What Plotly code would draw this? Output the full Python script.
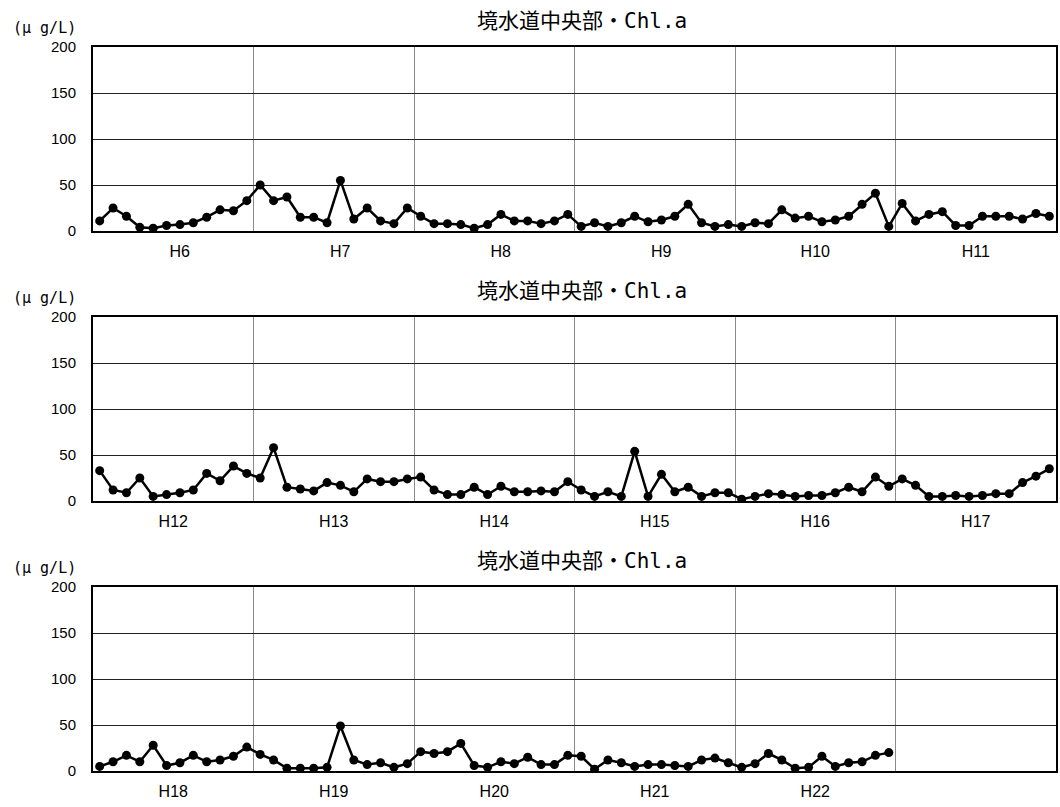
import plotly.graph_objects as go

# Monthly Chl.a values (μg/L), 12 per fiscal year
H6 = [11, 25, 16, 4, 3, 6, 7, 9, 15, 23, 22, 33]
H7 = [50, 33, 37, 15, 15, 9, 55, 13, 25, 11, 8, 25]
H8 = [16, 8, 8, 7, 3, 7, 18, 11, 11, 8, 11, 18]
H9 = [5, 9, 5, 9, 16, 10, 12, 16, 29, 9, 5, 7]
H10 = [5, 9, 8, 23, 14, 16, 10, 12, 16, 29, 41, 5]
H11 = [30, 11, 18, 21, 6, 6, 16, 16, 16, 13, 19, 16]
H12 = [33, 12, 9, 25, 5, 7, 9, 12, 30, 22, 38, 30]
H13 = [25, 58, 15, 13, 11, 20, 17, 10, 24, 21, 21, 24]
H14 = [26, 12, 7, 7, 15, 7, 16, 10, 10, 11, 10, 21]
H15 = [12, 5, 10, 5, 54, 5, 29, 10, 15, 5, 9, 9]
H16 = [2, 5, 8, 7, 5, 6, 6, 9, 15, 10, 26, 16]
H17 = [24, 17, 5, 5, 6, 5, 6, 8, 8, 20, 27, 35]
H18 = [5, 10, 17, 10, 28, 6, 9, 17, 10, 12, 16, 26]
H19 = [18, 12, 3, 3, 3, 4, 49, 12, 7, 9, 4, 8]
H20 = [21, 19, 21, 30, 6, 4, 10, 8, 15, 7, 7, 17]
H21 = [16, 2, 12, 9, 5, 7, 7, 6, 5, 12, 14, 9]
H22 = [4, 8, 19, 12, 3, 4, 16, 5, 9, 10, 17, 20]

panel_years = [
    ["H6", "H7", "H8", "H9", "H10", "H11"],
    ["H12", "H13", "H14", "H15", "H16", "H17"],
    ["H18", "H19", "H20", "H21", "H22", ""],
]
year_data = {
    "H6": H6, "H7": H7, "H8": H8, "H9": H9, "H10": H10, "H11": H11,
    "H12": H12, "H13": H13, "H14": H14, "H15": H15, "H16": H16, "H17": H17,
    "H18": H18, "H19": H19, "H20": H20, "H21": H21, "H22": H22,
}
title_cjk = "境水道中央部・"
title_lat = "Chl.a"
unit_text = "(μ g/L)"
y_ticks = [0, 50, 100, 150, 200]

W, H = 1060, 807
L, R = 93, 1056
panel_px = [(47, 231), (317, 501), (587, 771)]
px_per_unit = (R - L) / 72.0

fig = go.Figure()
cjk = "Noto Sans CJK JP"
mono = "DejaVu Sans Mono"
narrow = "Liberation Sans Narrow, Arial Narrow, Liberation Sans"

for i, years in enumerate(panel_years):
    xs, ys = [], []
    for k, yr in enumerate(years):
        vals = year_data.get(yr, [])
        for m, v in enumerate(vals):
            xs.append(k * 12 + m)
            ys.append(v)
    n = i + 1
    xa = "x" if n == 1 else f"x{n}"
    ya = "y" if n == 1 else f"y{n}"
    fig.add_trace(go.Scatter(
        x=xs, y=ys, mode="lines+markers", xaxis=xa, yaxis=ya,
        line=dict(color="black", width=2.5),
        marker=dict(color="black", size=9),
        showlegend=False, hoverinfo="x+y",
    ))
    top, bot = panel_px[i]
    dom_y = [1 - bot / H, 1 - top / H]
    xkey = "xaxis" if n == 1 else f"xaxis{n}"
    ykey = "yaxis" if n == 1 else f"yaxis{n}"
    # two-character labels sit slightly right of the block centre
    tv = [k * 12 + 5.5 + (6.5 / px_per_unit if len(lbl) == 2 else 0)
          for k, lbl in enumerate(years)]
    fig.update_layout(**{
        xkey: dict(
            domain=[0, 1], anchor=ya, range=[-0.5, 71.5], automargin=False,
            tickvals=tv, ticktext=years, ticks="", showgrid=False,
            zeroline=False,
            showline=True, linecolor="black", linewidth=2, mirror=True,
            tickfont=dict(family=narrow, size=16, color="black"),
            ticklabelstandoff=5,
            minor=dict(tickvals=[k * 12 - 0.5 for k in range(1, 6)],
                       showgrid=True, gridcolor="#8a8a8a", gridwidth=1,
                       ticks=""),
        ),
        ykey: dict(
            domain=dom_y, anchor=xa, range=[0, 200], automargin=False,
            tickvals=y_ticks, ticks="", showgrid=True,
            gridcolor="#222222", gridwidth=1, zeroline=False,
            showline=True, linecolor="black", linewidth=2, mirror=True,
            tickfont=dict(family="Liberation Sans", size=15, color="black"),
            ticklabelstandoff=12,
        ),
    })
    fig.add_annotation(
        text=(title_cjk + "<span style=\"font-family:'DejaVu Sans Mono'\">"
              + title_lat + "</span>"),
        xref="paper", yref="paper",
        x=(582 - L) / (R - L), y=1 - (top - 28) / H,
        xanchor="center", yanchor="middle", showarrow=False,
        font=dict(family=cjk, size=21, color="black"),
    )
    fig.add_annotation(
        text=unit_text, xref="paper", yref="paper",
        x=(11 - L) / (R - L), y=1 - (top - 19) / H,
        xanchor="left", yanchor="middle", showarrow=False,
        font=dict(family=mono, size=15, color="black"),
    )

fig.update_layout(
    width=W, height=H,
    margin=dict(l=L, r=W - R, t=0, b=0, autoexpand=False),
    paper_bgcolor="white", plot_bgcolor="white",
)

fig.write_html("out.html",
               config={"displayModeBar": False},
               post_script="document.body.style.margin='0';"
                           "document.body.style.overflow='hidden';")
